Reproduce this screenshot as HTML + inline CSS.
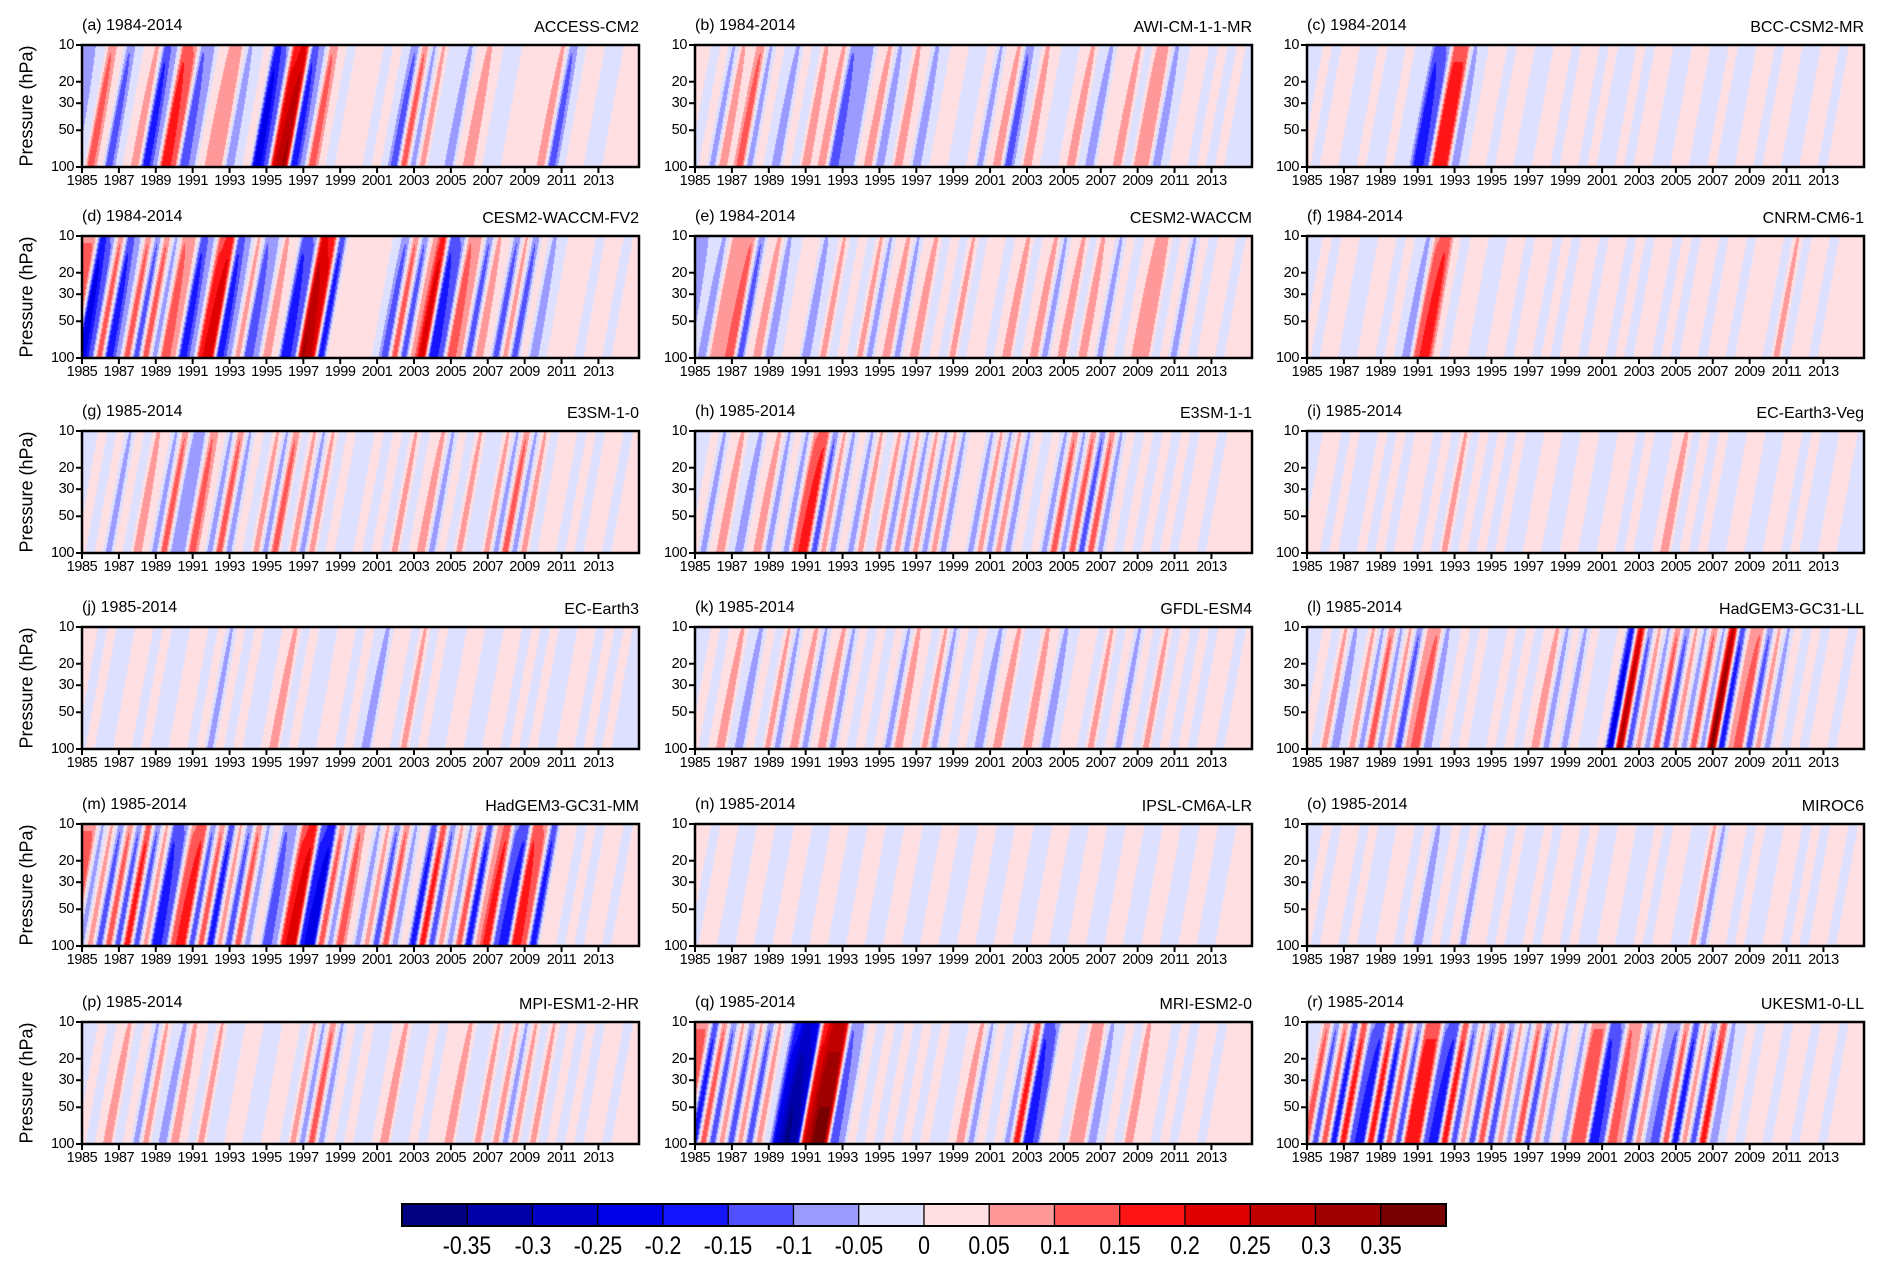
<!DOCTYPE html>
<html><head><meta charset="utf-8"><style>
body{margin:0;background:#fff;width:1892px;height:1270px;overflow:hidden;font-family:"Liberation Sans",Arial,sans-serif}
#root{position:relative;width:1892px;height:1270px}
canvas{position:absolute}
.t{position:absolute;white-space:nowrap;color:#000}
</style></head><body><div id="root"></div>
<script>
const years=["1985","1987","1989","1991","1993","1995","1997","1999","2001","2003","2005","2007","2009","2011","2013"];
const pLevels=[10,20,30,50,100];
const cbLabels=["-0.35","-0.3","-0.25","-0.2","-0.15","-0.1","-0.05","0","0.05","0.1","0.15","0.2","0.25","0.3","0.35"];
const panelTitles=["(a) 1984-2014","(b) 1984-2014","(c) 1984-2014","(d) 1984-2014","(e) 1984-2014","(f) 1984-2014","(g) 1985-2014","(h) 1985-2014","(i) 1985-2014","(j) 1985-2014","(k) 1985-2014","(l) 1985-2014","(m) 1985-2014","(n) 1985-2014","(o) 1985-2014","(p) 1985-2014","(q) 1985-2014","(r) 1985-2014"];
const models=["ACCESS-CM2","AWI-CM-1-1-MR","BCC-CSM2-MR","CESM2-WACCM-FV2","CESM2-WACCM","CNRM-CM6-1","E3SM-1-0","E3SM-1-1","EC-Earth3-Veg","EC-Earth3","GFDL-ESM4","HadGEM3-GC31-LL","HadGEM3-GC31-MM","IPSL-CM6A-LR","MIROC6","MPI-ESM1-2-HR","MRI-ESM2-0","UKESM1-0-LL"];
// half-yearly anomaly (units of 0.05) at mid-level, 1985.0 .. 2014.5
const sA=[-2,-1,3,1,-3,-1,1,2,-4,-2,4,3,-3,-2,1,2,2,-2,-1,1,-5,-3,5,6,-4,-2,3,1,-1,1,1,1,-1,1,-1,-3,3,-2,2,-1,-1,-2,1,2,1,-1,-1,1,1,1,1,2,-3,-1,1,1,-1,-1,1,1];
const sB=[1,-1,1,-2,2,1,3,-2,1,-1,-2,1,-1,2,1,2,-3,-2,-2,1,2,-2,-1,2,1,-2,-1,1,1,-1,-1,1,-2,1,2,-3,-1,2,1,-1,-1,1,2,-1,-2,1,1,2,-1,2,2,-2,-1,1,1,-1,1,-1,1,-1];
const sC=[-1,1,-1,1,1,-1,-1,1,-1,-1,1,-1,-1,-4,-3,4,4,-2,-1,1,1,-1,1,1,-1,-1,1,1,-1,1,1,-1,1,-1,-1,1,-1,1,1,-1,-1,1,1,-1,-1,1,-1,-1,1,1,-1,1,1,-1,-1,1,1,-1,1,1];
const sD=[3,-5,-3,3,-4,-2,3,-3,3,-2,3,2,-4,-2,4,5,-4,-2,2,-3,-2,2,1,-4,-3,6,5,-4,1,1,1,1,1,-1,-3,3,-3,2,5,-4,-3,3,2,-3,2,1,-3,2,-3,1,-2,-1,1,1,1,-1,1,1,-1,1];
const sE=[-2,-1,-2,2,2,3,-3,1,2,-2,-1,1,1,-2,-1,2,-1,1,-1,2,-2,1,2,-2,1,2,-1,1,-1,2,-1,1,1,-1,1,2,-1,1,2,-2,1,2,-1,2,1,-2,1,-1,1,2,2,-1,1,-2,1,-1,1,1,-1,1];
const sF=[-1,1,-1,1,1,-1,-1,1,1,-1,1,-1,-2,3,4,1,-1,1,1,-1,-1,1,1,-1,1,1,-1,1,-1,1,1,-1,1,1,-1,1,-1,1,1,-1,1,-1,1,1,-1,1,1,-1,1,1,1,-1,2,-1,1,1,-1,1,1,1];
const sG=[-1,1,-1,1,-2,1,-1,2,1,-2,3,-2,-2,3,1,-2,3,-2,1,-1,2,-2,3,-1,2,-2,2,-1,1,-1,-1,1,-1,1,-1,2,-1,1,2,-2,1,-1,2,-1,-1,2,-2,3,-2,2,-1,1,1,-1,1,-1,1,1,-1,1];
const sH=[-1,1,-2,1,2,-1,-2,1,2,-2,1,-2,3,4,-3,2,-2,1,-2,2,-1,2,-2,2,-2,2,-2,2,-2,1,1,-2,2,-2,2,-2,1,-1,1,-2,3,-2,3,-3,3,-2,1,-1,1,-1,1,-1,1,-1,1,1,-1,1,1,1];
const sI=[-1,1,1,-1,1,-1,-1,1,-1,1,-1,1,1,-1,1,-1,2,-1,1,-1,1,-1,1,-1,-1,1,1,-1,-1,1,1,-1,-1,1,1,-1,1,-1,-1,1,2,-1,1,-1,1,-1,-1,1,1,-1,-1,1,1,-1,1,-1,-1,1,1,-1];
const sJ=[1,-1,1,-1,-1,1,1,-1,1,-1,-1,1,1,-1,1,-2,1,-1,1,-1,-1,1,2,-1,1,-1,-1,1,1,-1,1,-1,-2,1,1,-1,2,-1,1,-1,-1,1,1,-1,-1,1,1,-1,1,-1,1,-1,-1,1,1,-1,1,-1,1,-1];
const sK=[-1,1,-1,1,2,-1,-2,1,-1,2,-2,1,2,-2,1,2,-2,1,-1,1,-1,1,-2,2,1,-1,2,-2,1,-1,1,-1,-2,1,2,-1,-1,2,1,-2,-1,1,1,-1,2,-1,1,-2,1,-1,2,-1,1,-1,1,-1,1,1,-1,1];
const sL=[-1,1,-1,2,-2,-1,2,-2,3,-2,2,-3,2,3,-2,-1,1,-1,1,-1,-1,1,-1,1,-1,1,2,-2,1,-2,1,-1,-1,1,-5,6,-3,2,-2,3,-3,2,-2,3,-2,7,-4,2,3,-3,2,-2,1,-1,1,-1,1,1,-1,1];
const sM=[3,-2,2,-3,3,-3,4,-3,2,-4,-3,3,4,-3,3,-4,2,-3,3,-2,1,-3,-2,4,5,-4,-5,3,-2,3,1,-2,2,-3,3,-2,1,-4,4,-3,2,-2,3,-4,2,4,-3,-4,4,3,-4,1,1,-1,1,-1,1,1,-1,1];
const sN=[1,-1,1,1,-1,-1,1,1,-1,-1,1,1,-1,-1,1,1,-1,-1,1,1,-1,-1,1,1,-1,-1,1,1,-1,-1,1,1,-1,-1,1,1,-1,-1,1,1,-1,-1,1,1,-1,-1,1,1,-1,-1,1,1,-1,-1,1,1,-1,-1,1,1];
const sO=[-1,1,-1,1,1,-1,1,-1,-1,1,1,-1,1,-2,-1,1,-1,1,-2,1,1,-1,1,-1,-1,1,-1,1,1,-1,1,-1,-1,1,1,-1,-1,1,-1,1,1,-1,-1,2,-2,1,1,-1,1,-1,-1,1,1,-1,1,-1,1,1,-1,1];
const sP=[-1,1,-1,1,2,-1,1,-2,2,-1,-2,2,1,-1,2,-1,-1,1,1,-1,-1,1,1,-1,2,-2,3,-2,1,-1,1,-1,-1,1,2,-1,-1,1,-1,1,1,2,-1,-1,2,-1,2,-2,2,-1,2,-1,1,-1,1,-1,1,1,-1,1];
const sQ=[3,-4,3,-3,2,-3,2,-3,2,-1,-5,-7,-6,5,7,7,-3,-2,1,-1,1,-1,1,-1,1,-1,1,-1,-1,1,2,-2,1,-1,1,-2,4,-4,-3,1,1,-1,2,2,-2,-1,1,-1,2,1,1,-1,1,-1,1,1,-1,1,1,1];
const sR=[-1,3,-3,3,-4,4,-3,-4,4,-4,3,-3,4,4,-3,-4,4,-3,2,-3,3,-3,2,-2,3,-3,2,-2,1,-2,3,3,-4,-3,3,2,-3,2,-2,-3,3,-4,2,-3,4,-2,-1,1,-1,1,1,-1,1,1,-1,1,1,-1,1,1];
const series=[sA,sB,sC,sD,sE,sF,sG,sH,sI,sJ,sK,sL,sM,sN,sO,sP,sQ,sR];

const root=document.getElementById('root');
const colX=[82,695,1307], rowY=[45,236,431,627,824,1022], W=557, H=122, SPAN=30.2;
const negC=[[221,224,255],[155,155,255],[80,80,255],[21,21,255],[0,0,232],[0,0,200],[0,0,168],[0,0,128]];
const posC=[[255,223,226],[255,153,153],[255,85,85],[255,21,21],[224,0,0],[192,0,0],[160,0,0],[120,0,0]];
function xScale(t){return t/SPAN*W;}
function yScale(p){return (Math.log10(p)-1)*H;}
function txt(parent,s,x,y,size,name){const d=document.createElement('div');d.className='t';d.textContent=s;d.style.left=x+'px';d.style.top=y+'px';d.style.fontSize=size+'px';


parent.appendChild(d);return d;}
function sample(S,h){h=Math.max(0,Math.min(S.length-1,h));const i=Math.floor(h),f=h-i,j=Math.min(S.length-1,i+1);const w=(1-Math.cos(f*Math.PI))/2;return S[i]*(1-w)+S[j]*w;}
series.forEach((S,k)=>{
  const L=colX[k%3], T=rowY[Math.floor(k/3)];
  const cv=document.createElement('canvas');cv.width=W;cv.height=H;cv.style.left=L+'px';cv.style.top=T+'px';
  
  
  root.appendChild(cv);
  const ctx=cv.getContext('2d');const img=ctx.createImageData(W,H);
  for(let y=0;y<H;y++){const z=1-y/H;const amp=1.1-0.3*z*z;
    for(let x=0;x<W;x++){const t=x/W*SPAN - 1.2*(z-0.5);
      let v=sample(S,t*2)*amp;const a=Math.abs(v);let b=Math.floor(Math.max(0,a-0.5));if(b>7)b=7;
      const c=v>=0?posC[b]:negC[b];const o=(y*W+x)*4;img.data[o]=c[0];img.data[o+1]=c[1];img.data[o+2]=c[2];img.data[o+3]=255;}}
  ctx.putImageData(img,0,0);
  const sv=document.createElementNS('http://www.w3.org/2000/svg','svg');
  sv.setAttribute('width',W+40);sv.setAttribute('height',H+20);sv.style.position='absolute';sv.style.left=(L-20)+'px';sv.style.top=(T-10)+'px';
  
  
  let s=`<rect x="20" y="10" width="${W}" height="${H}" fill="none" stroke="#000" stroke-width="2.5"/>`;
  years.forEach(yr=>{const x=20+xScale(+yr-1985);s+=`<line x1="${x}" y1="${10+H}" x2="${x}" y2="${16+H}" stroke="#000" stroke-width="2"/>`;});
  pLevels.forEach(p=>{const y=10+yScale(p);s+=`<line x1="14" y1="${y}" x2="20" y2="${y}" stroke="#000" stroke-width="2"/>`;});
  sv.innerHTML=s;root.appendChild(sv);
  years.forEach(yr=>{const d=txt(root,yr,L+xScale(+yr-1985),T+H+6,14.5,'x-tick-label');d.style.transform='translateX(-50%)';d.style.letterSpacing='-0.4px';});
  pLevels.forEach(p=>{const d=txt(root,String(p),L-8,T+yScale(p),14.5,'y-tick-label');d.style.transform='translate(-100%,-50%)';d.style.letterSpacing='-0.4px';});
  txt(root,panelTitles[k],L,T-28,16,'panel-title');
  const m=txt(root,models[k],L+W,T-26,16,'model-name');m.style.transform='translateX(-100%)';
  if(k%3===0){const yl=txt(root,'Pressure (hPa)',27,T+H/2,18,'y-axis-title');yl.style.transform='translate(-50%,-50%) rotate(-90deg)';}
});
const cbL=402,cbT=1204,cbW=1044,cbH=22,nb=16,bw=cbW/nb;
const cb=document.createElementNS('http://www.w3.org/2000/svg','svg');
cb.setAttribute('width',cbW+4);cb.setAttribute('height',cbH+4);cb.style.position='absolute';cb.style.left=(cbL-2)+'px';cb.style.top=(cbT-2)+'px';


let cs='';const allC=[...negC.slice().reverse(),...posC];
allC.forEach((c,i)=>{cs+=`<rect x="${2+i*bw}" y="2" width="${bw}" height="${cbH}" fill="rgb(${c})" stroke="#000" stroke-width="1.2"/>`;});
cs+=`<rect x="2" y="2" width="${cbW}" height="${cbH}" fill="none" stroke="#000" stroke-width="2"/>`;
cb.innerHTML=cs;root.appendChild(cb);
cbLabels.forEach((l,i)=>{const d=txt(root,l,cbL+(i+1)*bw,cbT+cbH+6,25,'colorbar-label');d.style.transform='translateX(-50%) scaleX(0.85)';});
</script></body></html>
